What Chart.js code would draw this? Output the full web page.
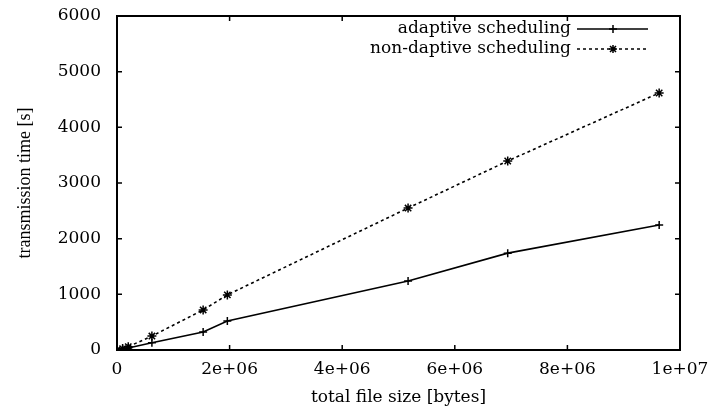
<!DOCTYPE html>
<html>
<head>
<meta charset="utf-8">
<script src="https://cdn.jsdelivr.net/npm/chart.js@4/dist/chart.umd.min.js"></script>
<style>
html,body{margin:0;padding:0;background:#fff;}
#wrap{position:relative;width:711px;height:412px;}
</style>
</head>
<body>
<div id="wrap"><canvas id="c" width="711" height="412"></canvas></div>
<script>
const fileSizes = [0, 100000, 200000, 620000, 1530000, 1960000, 5170000, 6940000, 9630000];
const adaptiveTimes = [0, 15, 35, 130, 325, 520, 1240, 1740, 2245];
const nonAdaptiveTimes = [0, 25, 60, 250, 720, 990, 2550, 3395, 4617];
const seriesNames = ["adaptive scheduling", "non-daptive scheduling"];
const xTickValues = [0, 2000000, 4000000, 6000000, 8000000, 10000000];
const xTickLabels = ["0", "2e+06", "4e+06", "6e+06", "8e+06", "1e+07"];
const yTickValues = [0, 1000, 2000, 3000, 4000, 5000, 6000];
const xTitle = "total file size [bytes]";
const yTitle = "transmission time [s]";

const FONT = "'DejaVu Serif', serif";
const FONT2 = "'Liberation Serif', serif";

function pts(xs, ys){ return xs.map((x,i)=>({x:x, y:ys[i]})); }

function zeroPad(scale){
  scale.paddingTop = 0; scale.paddingBottom = 0;
  scale.paddingLeft = 0; scale.paddingRight = 0;
}

function drawMarker(ctx, style, x, y, r){
  ctx.beginPath();
  ctx.moveTo(x-r, y); ctx.lineTo(x+r, y);
  ctx.moveTo(x, y-r); ctx.lineTo(x, y+r);
  if (style === 'star'){
    const d = r*0.75;
    ctx.moveTo(x-d, y-d); ctx.lineTo(x+d, y+d);
    ctx.moveTo(x-d, y+d); ctx.lineTo(x+d, y-d);
  }
  ctx.stroke();
}

const framePlugin = {
  id: 'frame',
  afterDraw(chart){
    const ctx = chart.ctx, a = chart.chartArea;
    const xs = chart.scales.x, ys = chart.scales.y;
    ctx.save();
    ctx.strokeStyle = '#000';
    ctx.lineWidth = 2;
    ctx.strokeRect(a.left, a.top, a.right - a.left, a.bottom - a.top);
    ctx.lineWidth = 1.5;
    ctx.beginPath();
    xTickValues.forEach(v=>{
      const px = xs.getPixelForValue(v);
      ctx.moveTo(px, a.bottom); ctx.lineTo(px, a.bottom - 5);
      ctx.moveTo(px, a.top); ctx.lineTo(px, a.top + 5);
    });
    yTickValues.forEach(v=>{
      const py = ys.getPixelForValue(v);
      ctx.moveTo(a.left, py); ctx.lineTo(a.left + 5, py);
      ctx.moveTo(a.right, py); ctx.lineTo(a.right - 5, py);
    });
    ctx.stroke();

    // legend
    ctx.font = "17px " + FONT;
    ctx.fillStyle = '#000';
    ctx.textAlign = 'right';
    ctx.textBaseline = 'middle';
    const rows = [
      {name: seriesNames[0], y: a.top + 13, dash: [], style: 'cross'},
      {name: seriesNames[1], y: a.top + 33, dash: [3,3], style: 'star'}
    ];
    rows.forEach(r=>{
      ctx.fillText(r.name, a.right - 109, r.y);
      ctx.setLineDash(r.dash);
      ctx.lineWidth = 1.5;
      ctx.beginPath();
      ctx.moveTo(a.right - 103, r.y); ctx.lineTo(a.right - 32, r.y);
      ctx.stroke();
      ctx.setLineDash([]);
      drawMarker(ctx, r.style, a.right - 67, r.y, 4);
    });
    ctx.restore();
  }
};

new Chart(document.getElementById('c'), {
  type: 'scatter',
  data: {
    datasets: [
      {
        label: seriesNames[0],
        data: pts(fileSizes, adaptiveTimes),
        showLine: true,
        borderColor: '#000',
        backgroundColor: '#000',
        borderWidth: 1.6,
        pointStyle: 'cross',
        pointRadius: 4,
        pointBorderWidth: 1.5,
        tension: 0
      },
      {
        label: seriesNames[1],
        data: pts(fileSizes, nonAdaptiveTimes),
        showLine: true,
        borderColor: '#000',
        backgroundColor: '#000',
        borderWidth: 1.6,
        borderDash: [3,3],
        pointStyle: 'star',
        pointRadius: 4.5,
        pointBorderWidth: 1.5,
        tension: 0
      }
    ]
  },
  options: {
    responsive: false,
    animation: false,
    layout: { padding: { left: 0, right: 31, top: 16, bottom: 0 } },
    plugins: {
      legend: { display: false },
      tooltip: { enabled: false }
    },
    scales: {
      x: {
        type: 'linear',
        min: 0, max: 10000000,
        afterBuildTicks(scale){ scale.ticks = xTickValues.map(v=>({value:v})); },
        afterFit(scale){ scale.height = 62; zeroPad(scale); },
        grid: { display: false, drawTicks: false },
        border: { display: false },
        ticks: {
          color: '#000',
          font: { family: FONT, size: 17 },
          padding: 9,
          maxRotation: 0,
          autoSkip: false,
          callback(v){ const i = xTickValues.indexOf(v); return i >= 0 ? xTickLabels[i] : ''; }
        },
        title: {
          display: true, text: xTitle, color: '#000',
          font: { family: FONT, size: 17 },
          padding: { top: 0, bottom: 4 }
        }
      },
      y: {
        type: 'linear',
        min: 0, max: 6000,
        afterBuildTicks(scale){ scale.ticks = yTickValues.map(v=>({value:v})); },
        afterFit(scale){ scale.width = 117; zeroPad(scale); },
        grid: { display: false, drawTicks: false },
        border: { display: false },
        ticks: {
          color: '#000',
          font: { family: FONT, size: 17 },
          padding: 16,
          autoSkip: false,
          callback(v){ return String(v); }
        },
        title: {
          display: true, text: yTitle, color: '#000',
          font: { family: FONT2, size: 18 },
          padding: { top: 14, bottom: 0 }
        }
      }
    }
  },
  plugins: [framePlugin]
});
</script>
</body>
</html>
